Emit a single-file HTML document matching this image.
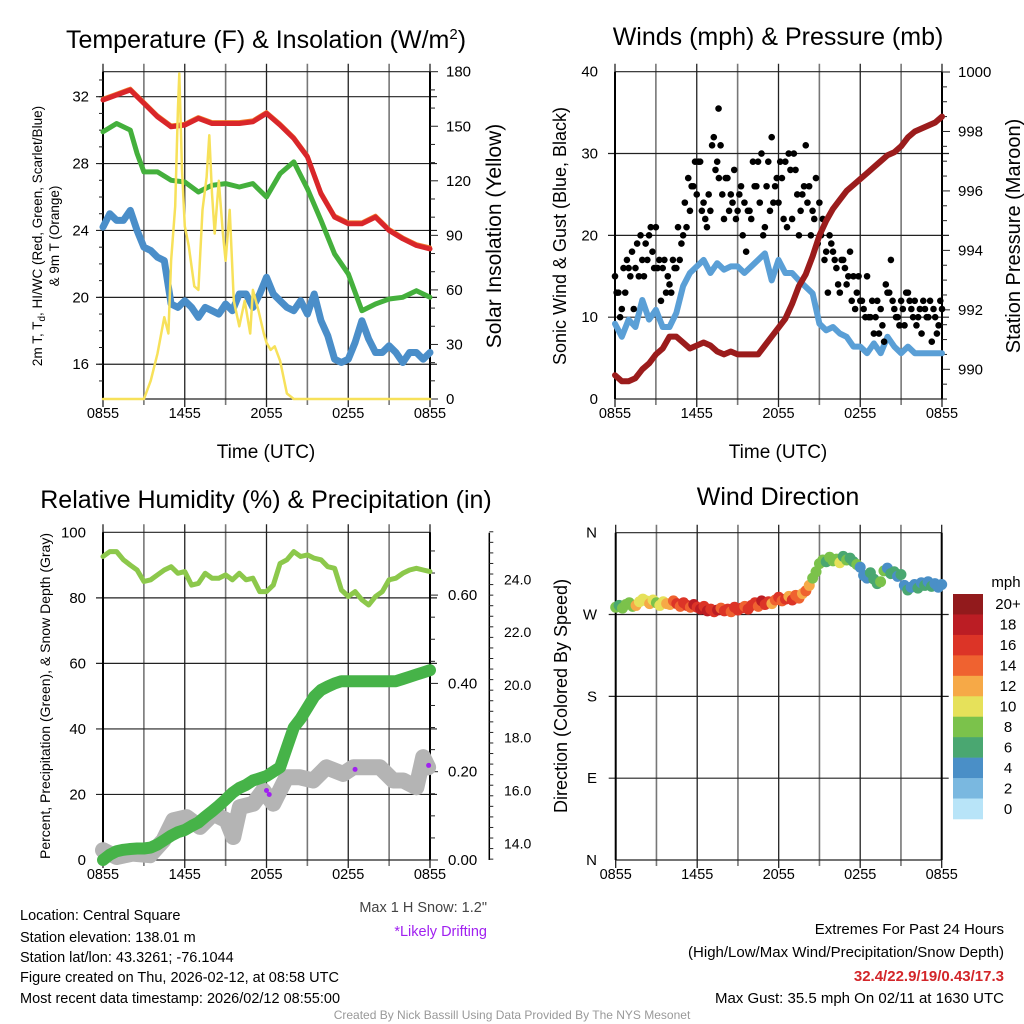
<!DOCTYPE html>
<html><head><meta charset="utf-8">
<style>
body{margin:0;background:#fff;}
svg{display:block;font-family:"Liberation Sans",Arial,sans-serif;}
</style></head>
<body>
<svg id="c" width="1024" height="1024" viewBox="0 0 1024 1024" xmlns="http://www.w3.org/2000/svg">
<g id="g"></g>
<text x="266" y="48" font-size="25" text-anchor="middle">Temperature (F) &amp; Insolation (W/m<tspan dy="-9" font-size="15">2</tspan><tspan dy="9">)</tspan></text>
<text x="778" y="45" font-size="25" text-anchor="middle">Winds (mph) &amp; Pressure (mb)</text>
<text x="266" y="508" font-size="25" text-anchor="middle">Relative Humidity (%) &amp; Precipitation (in)</text>
<text x="778" y="505" font-size="25" text-anchor="middle">Wind Direction</text>
<text transform="translate(42,236) rotate(-90)" font-size="13.5" text-anchor="middle">2m T, T<tspan font-size="10" dy="3">d</tspan><tspan dy="-3">, HI/WC (Red, Green, Scarlet/Blue)</tspan></text>
<text transform="translate(59,236) rotate(-90)" font-size="13.5" text-anchor="middle">&amp; 9m T (Orange)</text>
<text transform="translate(501,236) rotate(-90)" font-size="21" text-anchor="middle">Solar Insolation (Yellow)</text>
<text transform="translate(566,236) rotate(-90)" font-size="18" text-anchor="middle">Sonic Wind &amp; Gust (Blue, Black)</text>
<text transform="translate(1020,236) rotate(-90)" font-size="20" text-anchor="middle">Station Pressure (Maroon)</text>
<text transform="translate(50,696) rotate(-90)" font-size="14" text-anchor="middle">Percent, Precipitation (Green), &amp; Snow Depth (Gray)</text>
<text transform="translate(567,696) rotate(-90)" font-size="18" text-anchor="middle">Direction (Colored By Speed)</text>
<text x="266" y="458" font-size="19" text-anchor="middle">Time (UTC)</text>
<text x="778" y="458" font-size="19" text-anchor="middle">Time (UTC)</text>
<text x="487" y="912" font-size="14.5" text-anchor="end" fill="#444">Max 1 H Snow: 1.2"</text>
<text x="487" y="936" font-size="14.5" text-anchor="end" fill="#a020f0">*Likely Drifting</text>
<g font-size="14.5">
<text x="20" y="920">Location: Central Square</text>
<text x="20" y="942">Station elevation: 138.01 m</text>
<text x="20" y="962">Station lat/lon: 43.3261; -76.1044</text>
<text x="20" y="982">Figure created on Thu, 2026-02-12, at 08:58 UTC</text>
<text x="20" y="1003">Most recent data timestamp: 2026/02/12 08:55:00</text>
</g>
<g font-size="15" text-anchor="end">
<text x="1004" y="934">Extremes For Past 24 Hours</text>
<text x="1004" y="957">(High/Low/Max Wind/Precipitation/Snow Depth)</text>
<text x="1004" y="981" fill="#d3262a" font-weight="bold">32.4/22.9/19/0.43/17.3</text>
<text x="1004" y="1003">Max Gust: 35.5 mph On 02/11 at 1630 UTC</text>
</g>
<text x="512" y="1019" font-size="12" text-anchor="middle" fill="#999">Created By Nick Bassill Using Data Provided By The NYS Mesonet</text>
</svg>
<script>
const xTickLabels=["0855","1455","2055","0255","0855"];
const tempHours=[0,1,2,2.5,3,4,5,6,7,8,9,10,11,12,13,14,15,16,17,18,19,20,21,22,23,24];
const tempRed=[31.8,32.1,32.4,32.0,31.6,30.8,30.2,30.3,30.7,30.4,30.4,30.4,30.5,31.0,30.3,29.5,28.4,26.2,24.8,24.4,24.4,24.8,24.0,23.5,23.1,22.9];
const tempGreen=[29.9,30.4,30.0,28.6,27.5,27.5,27.0,26.9,26.3,26.7,26.8,26.6,26.8,26.0,27.4,28.1,26.5,24.6,22.6,21.4,19.2,19.6,19.9,20.0,20.4,20.0];
const dewBlue=[24.2,25.0,24.6,24.6,25.2,24.0,23.0,22.8,22.4,22.2,19.6,19.4,19.8,19.4,18.8,19.4,19.2,19.0,19.6,19.2,20.2,20.2,19.4,20.2,21.2,20.2,19.8,19.4,19.2,19.8,19.0,20.2,18.6,17.7,16.3,16.1,16.3,17.3,18.6,17.5,16.7,16.7,17.1,16.7,16.1,16.7,16.7,16.3,16.7];
const solarHours=[0,3,3.5,4,4.5,4.8,5,5.3,5.5,5.6,5.8,6,6.3,6.7,7,7.3,7.6,7.8,8,8.2,8.5,8.8,9,9.3,9.6,10,10.4,10.8,11,11.4,11.8,12,12.3,12.6,13,13.5,14,24];
const solarVals=[0,0,10,25,45,36,76,106,159,179,126,95,84,62,60,104,122,145,113,91,120,91,76,104,54,40,54,36,60,49,36,31,27,29,21,3,0,0];
const pressure=[989.8,989.6,989.6,989.7,990.0,990.2,990.5,990.7,991.1,991.1,990.9,990.7,990.8,990.9,990.8,990.6,990.5,990.6,990.5,990.5,990.5,990.5,990.8,991.1,991.4,991.7,992.2,992.8,993.2,993.8,994.5,995.0,995.4,995.7,996.0,996.2,996.4,996.6,996.8,997.0,997.2,997.3,997.5,997.8,998.0,998.1,998.2,998.3,998.5];
const windSpeed=[9.2,7.6,9.7,8.8,12.1,9.7,10.9,8.8,8.8,10.5,13.8,15.4,16.2,17.0,15.4,16.6,15.8,16.2,16.2,15.4,16.2,17.0,17.8,14.5,17.0,15.4,15.4,14.5,13.7,12.9,9.2,8.4,8.8,8.0,7.6,6.4,6.4,5.6,6.8,5.6,7.6,6.4,5.6,6.4,5.6,5.6,5.6,5.6,5.6];
const gustA=[15,13,11,13,16,18,16,15,17,19,20,18,21,17,16,13,14,17,16,17,20,21,23,26,25,29,24,21,23,32,29,31,22,27,25,28,23,26,24,23,22,26,29,30,21,29,32,26,24,27,29,30,22,28,20,25,31,26,23,27,24,22,18,20,18,16,13,17,14,18,15,13,12,11,15,10,8,12,11,7,13,17,11,10,12,9,13,11,12,10,8,11,10,7,10,9,11];
const gustB=[13,10,16,17,15,11,19,20,15,17,21,16,16,12,17,15,13,16,21,19,24,27,26,29,29,23,22,25,31,28,27,25,27,23,24,22,25,20,18,23,29,26,24,20,26,23,24,27,29,22,21,28,30,25,23,26,24,20,22,19,20,17,13,19,17,14,17,16,15,12,11,15,12,10,10,12,10,8,9,14,13,12,10,9,11,13,12,10,9,11,12,10,12,11,8,12];
const rh=[92.6,94.1,94.1,91.6,90.0,88.5,85.0,85.5,87.0,88.5,89.5,87.5,88.0,83.9,84.4,87.5,86.0,86.0,87.0,85.5,87.5,85.5,86.0,81.9,81.9,83.9,90.5,91.6,94.1,92.6,93.1,92.1,91.6,89.5,89.0,82.4,80.4,81.9,79.4,77.8,80.4,81.9,85.5,86.0,87.5,88.5,89.0,88.5,88.0];
const precip=[0,0.012,0.02,0.023,0.025,0.026,0.026,0.028,0.035,0.045,0.055,0.063,0.068,0.077,0.085,0.098,0.11,0.123,0.137,0.152,0.163,0.17,0.18,0.185,0.19,0.2,0.21,0.255,0.3,0.32,0.345,0.37,0.385,0.393,0.4,0.405,0.405,0.405,0.405,0.405,0.405,0.405,0.405,0.405,0.41,0.415,0.42,0.425,0.43];
const snowHours=[0,1.0,2.2,3.45,4.43,5.16,6.14,7.11,8.09,9.07,9.56,10.05,11.03,11.76,12.5,13.47,14.45,15.43,16.4,17.63,18.36,19.34,20.32,21.3,22.03,23.0,23.5,23.86];
const snowDepth=[13.74,13.48,13.61,13.55,14.11,14.87,14.99,14.62,15.12,14.87,14.24,15.37,15.5,16.0,15.5,16.5,16.5,16.38,16.88,16.63,16.88,16.88,16.88,16.38,16.38,16.12,17.26,16.88];
const driftHours=[12.0,12.2,18.5,23.9];
const driftDepth=[16.0,15.85,16.8,16.95];
const windDir=[278,280,277,281,283,279,280,284,287,285,282,286,283,280,284,282,281,285,282,279,283,280,278,281,278,276,279,274,276,273,275,277,274,276,273,278,275,277,279,276,280,283,279,285,281,284,282,286,289,285,287,290,286,291,288,293,296,302,310,317,326,330,328,333,329,331,327,334,330,332,328,325,322,313,310,316,309,304,306,318,321,315,317,312,314,302,297,300,303,299,305,302,306,301,304,300,303];
const dirSpeed=[8,7,9,8,9,8,12,10,11,10,12,10,9,10,11,13,12,15,16,14,17,16,15,18,17,19,16,18,16,17,18,15,16,17,15,16,17,16,15,17,16,17,15,18,16,17,13,15,16,14,17,12,16,15,14,13,14,13,9,8,8,9,7,8,8,9,10,7,8,7,6,8,5,4,5,6,7,6,8,9,4,7,6,5,6,5,6,4,5,6,4,6,5,6,5,4,5];
const cbLabels=["20+","18","16","14","12","10","8","6","4","2","0"];
const cbColors=["#921a1c","#bb1d24","#dc3427","#ef6230","#f6a947","#e6e15a","#7bc24b","#4aa771","#4a8fc7","#7ab8e0","#b8e4f8"];

const NS="http://www.w3.org/2000/svg";
const G=document.getElementById('g');
function mk(tag,at,parent){const e=document.createElementNS(NS,tag);for(const k in at)e.setAttribute(k,at[k]);(parent||G).appendChild(e);return e;}
function txt(x,y,s,size,anchor,parent){const t=mk('text',{x:x,y:y,'font-size':size,'text-anchor':anchor},parent);t.textContent=s;return t;}
function poly(xs,ys,sx,sy,color,w,name){let d='';for(let i=0;i<xs.length;i++)d+=(i?'L':'M')+sx(xs[i]).toFixed(1)+' '+sy(ys[i]).toFixed(1);
 const p=mk('path',{d:d,fill:'none',stroke:color,'stroke-width':w,'stroke-linejoin':'round','stroke-linecap':'round'});
 
 return p;}
function halfHours(n){const a=[];for(let i=0;i<n;i++)a.push(i*0.5);return a;}
function frame(x0,x1,y0,y1,hLines,name){
 const g=mk('g',{});
 
 
 for(let i=0;i<=8;i++){const x=x0+i*(x1-x0)/8;mk('line',{x1:x,x2:x,y1:y0-8,y2:y1+(i%2?6:8),stroke:i%2?'#777':'#222','stroke-width':i%2?1.6:1.3},g);}
 hLines.forEach(y=>mk('line',{x1:x0-7,x2:x1+7,y1:y,y2:y,stroke:'#222','stroke-width':1.2},g));
 mk('line',{x1:x0,x2:x1,y1:y0,y2:y0,stroke:'#222','stroke-width':1.2},g);
 mk('line',{x1:x0,x2:x1,y1:y1,y2:y1,stroke:'#222','stroke-width':1.2},g);
 mk('line',{x1:x0,x2:x0,y1:y0,y2:y1,stroke:'#000','stroke-width':2},g);
 mk('line',{x1:x1,x2:x1,y1:y0,y2:y1,stroke:'#000','stroke-width':2},g);
 xTickLabels.forEach((s,i)=>txt(x0+i*(x1-x0)/4,y1+19,s,14.5,'middle',g));
 return g;}

/* Panel 1 */
{const x0=103,x1=430,yT=71.7,yB=399;
 const sx=h=>x0+h*(x1-x0)/24, sy=v=>96.7+(32-v)*16.72, sr=v=>yB-v*(yB-yT)/180;
 const g=frame(x0,x1,yT,yB,[16,20,24,28,32].map(sy),'temperature-axes');
 [16,20,24,28,32].forEach(v=>txt(89,sy(v)+5,String(v),15,'end',g));
 for(let v=0;v<=180;v+=10){mk('line',{x1:x1,x2:x1+(v%30?5:8),y1:sr(v),y2:sr(v),stroke:'#222','stroke-width':1},g);}
 [0,30,60,90,120,150,180].forEach(v=>txt(446,sr(v)+5,String(v),15,'start',g));
 for(let v=15;v<=33;v++){mk('line',{x1:x0-4,x2:x0,y1:sy(v),y2:sy(v),stroke:'#222'},g);}
 poly(tempHours,tempRed.map(v=>v+0.08),sx,sy,'#f07a2a',4,'nine-meter-temp-line');
 poly(tempHours,tempRed,sx,sy,'#d9262a',5,'temperature-line');
 poly(tempHours,tempGreen,sx,sy,'#44b03c',5,'dewpoint-line');
 poly(halfHours(dewBlue.length),dewBlue,sx,sy,'#4a8ec9',7,'wind-chill-line');
 poly(solarHours,solarVals,sx,sr,'#f7e15a',2.5,'solar-insolation-line');}

/* Panel 2 */
{const x0=615,x1=942,yT=71.7,yB=399;
 const sx=h=>x0+h*(x1-x0)/24, sy=v=>yB-v*(yB-yT)/40, sp=p=>369.3-(p-990)*29.73;
 const g=frame(x0,x1,yT,yB,[10,20,30].map(sy),'wind-axes');
 [0,10,20,30,40].forEach(v=>txt(598,sy(v)+5,String(v),15,'end',g));
 for(let p=989;p<=1000;p+=0.5){mk('line',{x1:x1,x2:x1+(p%2?5:8),y1:sp(p),y2:sp(p),stroke:'#222'},g);}
 [990,992,994,996,998,1000].forEach(p=>txt(958,sp(p)+5,String(p),15,'start',g));
 poly(halfHours(windSpeed.length),windSpeed,sx,sy,'#5a9fd6',6,'sonic-wind-line');
 gustA.forEach((v,i)=>{const c=mk('circle',{cx:sx(i*0.25),cy:sy(v),r:3.3,fill:'#000'});
  
  });
 gustB.forEach((v,i)=>{const c=mk('circle',{cx:sx(i*0.25+0.125),cy:sy(v),r:3.3,fill:'#000'});
  
  });
 const m=mk('circle',{cx:sx(7.6),cy:sy(35.5),r:3.3,fill:'#000'});
 
 
 poly(halfHours(pressure.length),pressure,sx,sp,'#9b1c1c',6,'pressure-line');}

/* Panel 3 */
{const x0=103,x1=430,yT=532.3,yB=860;
 const sx=h=>x0+h*(x1-x0)/24, sy=v=>yB-v*(yB-yT)/100, spr=v=>yB-v*441.5, ss=d=>843.3-(d-14)*26.4;
 const g=frame(x0,x1,yT,yB,[20,40,60,80].map(sy),'humidity-axes');
 [0,20,40,60,80,100].forEach(v=>txt(86,sy(v)+5,String(v),15,'end',g));
 for(let v=0;v<=0.74;v+=0.05){mk('line',{x1:x1,x2:x1+(Math.round(v*100)%20?5:8),y1:spr(v),y2:spr(v),stroke:'#222'},g);}
 ["0.00","0.20","0.40","0.60"].forEach((s,i)=>txt(448,spr(i*0.2)+5,s,15,'start',g));
 const sa=mk('g',{});
 
 
 mk('line',{x1:489.3,x2:489.3,y1:532.7,y2:860,stroke:'#000','stroke-width':1.5},sa);
 for(let d=13.4;d<=25.8;d+=0.4){const k=Math.abs((d-14)/2-Math.round((d-14)/2))<0.01;mk('line',{x1:489.3,x2:489.3+(k?8:4),y1:ss(d),y2:ss(d),stroke:'#222'},sa);}
 ["14.0","16.0","18.0","20.0","22.0","24.0"].forEach((s,i)=>txt(504,ss(14+2*i)+5,s,14,'start',sa));
 poly(snowHours,snowDepth,sx,ss,'#b4b4b4',16,'snow-depth-line');
 poly(halfHours(precip.length),precip,sx,spr,'#46b348',12,'precipitation-line');
 poly(halfHours(rh.length),rh,sx,sy,'#8cc84b',5,'relative-humidity-line');
 driftHours.forEach((h,i)=>{const c=mk('circle',{cx:sx(h),cy:ss(driftDepth[i]),r:2.5,fill:'#a020f0'});
  
  });}

/* Panel 4 */
{const x0=615.7,x1=941.7,yT=532.7,yB=860;
 const sx=h=>x0+h*(x1-x0)/24, sy=d=>yB-d*(yB-yT)/360;
 const g=frame(x0,x1,yT,yB,[90,180,270].map(sy),'direction-axes');
 ["N","E","S","W","N"].forEach((s,i)=>txt(597,sy(i*90)+5,s,15,'end',g));
 const col=s=>cbColors[10-Math.min(10,Math.floor(s/2))];
 windDir.forEach((d,i)=>{const c=mk('circle',{cx:sx(i*0.25),cy:sy(d),r:5.5,fill:col(dirSpeed[i])});
  
  });
 const cb=mk('g',{});
 
 
 const h=(819-594)/11;
 cbColors.forEach((c,i)=>mk('rect',{x:953,y:594+i*h,width:30,height:h+0.3,fill:c},cb));
 cbLabels.forEach((s,i)=>txt(1008,594+i*h+h/2+5,s,15,'middle',cb));
 txt(1006,587,'mph',15,'middle',cb);}
</script>
</body></html>
